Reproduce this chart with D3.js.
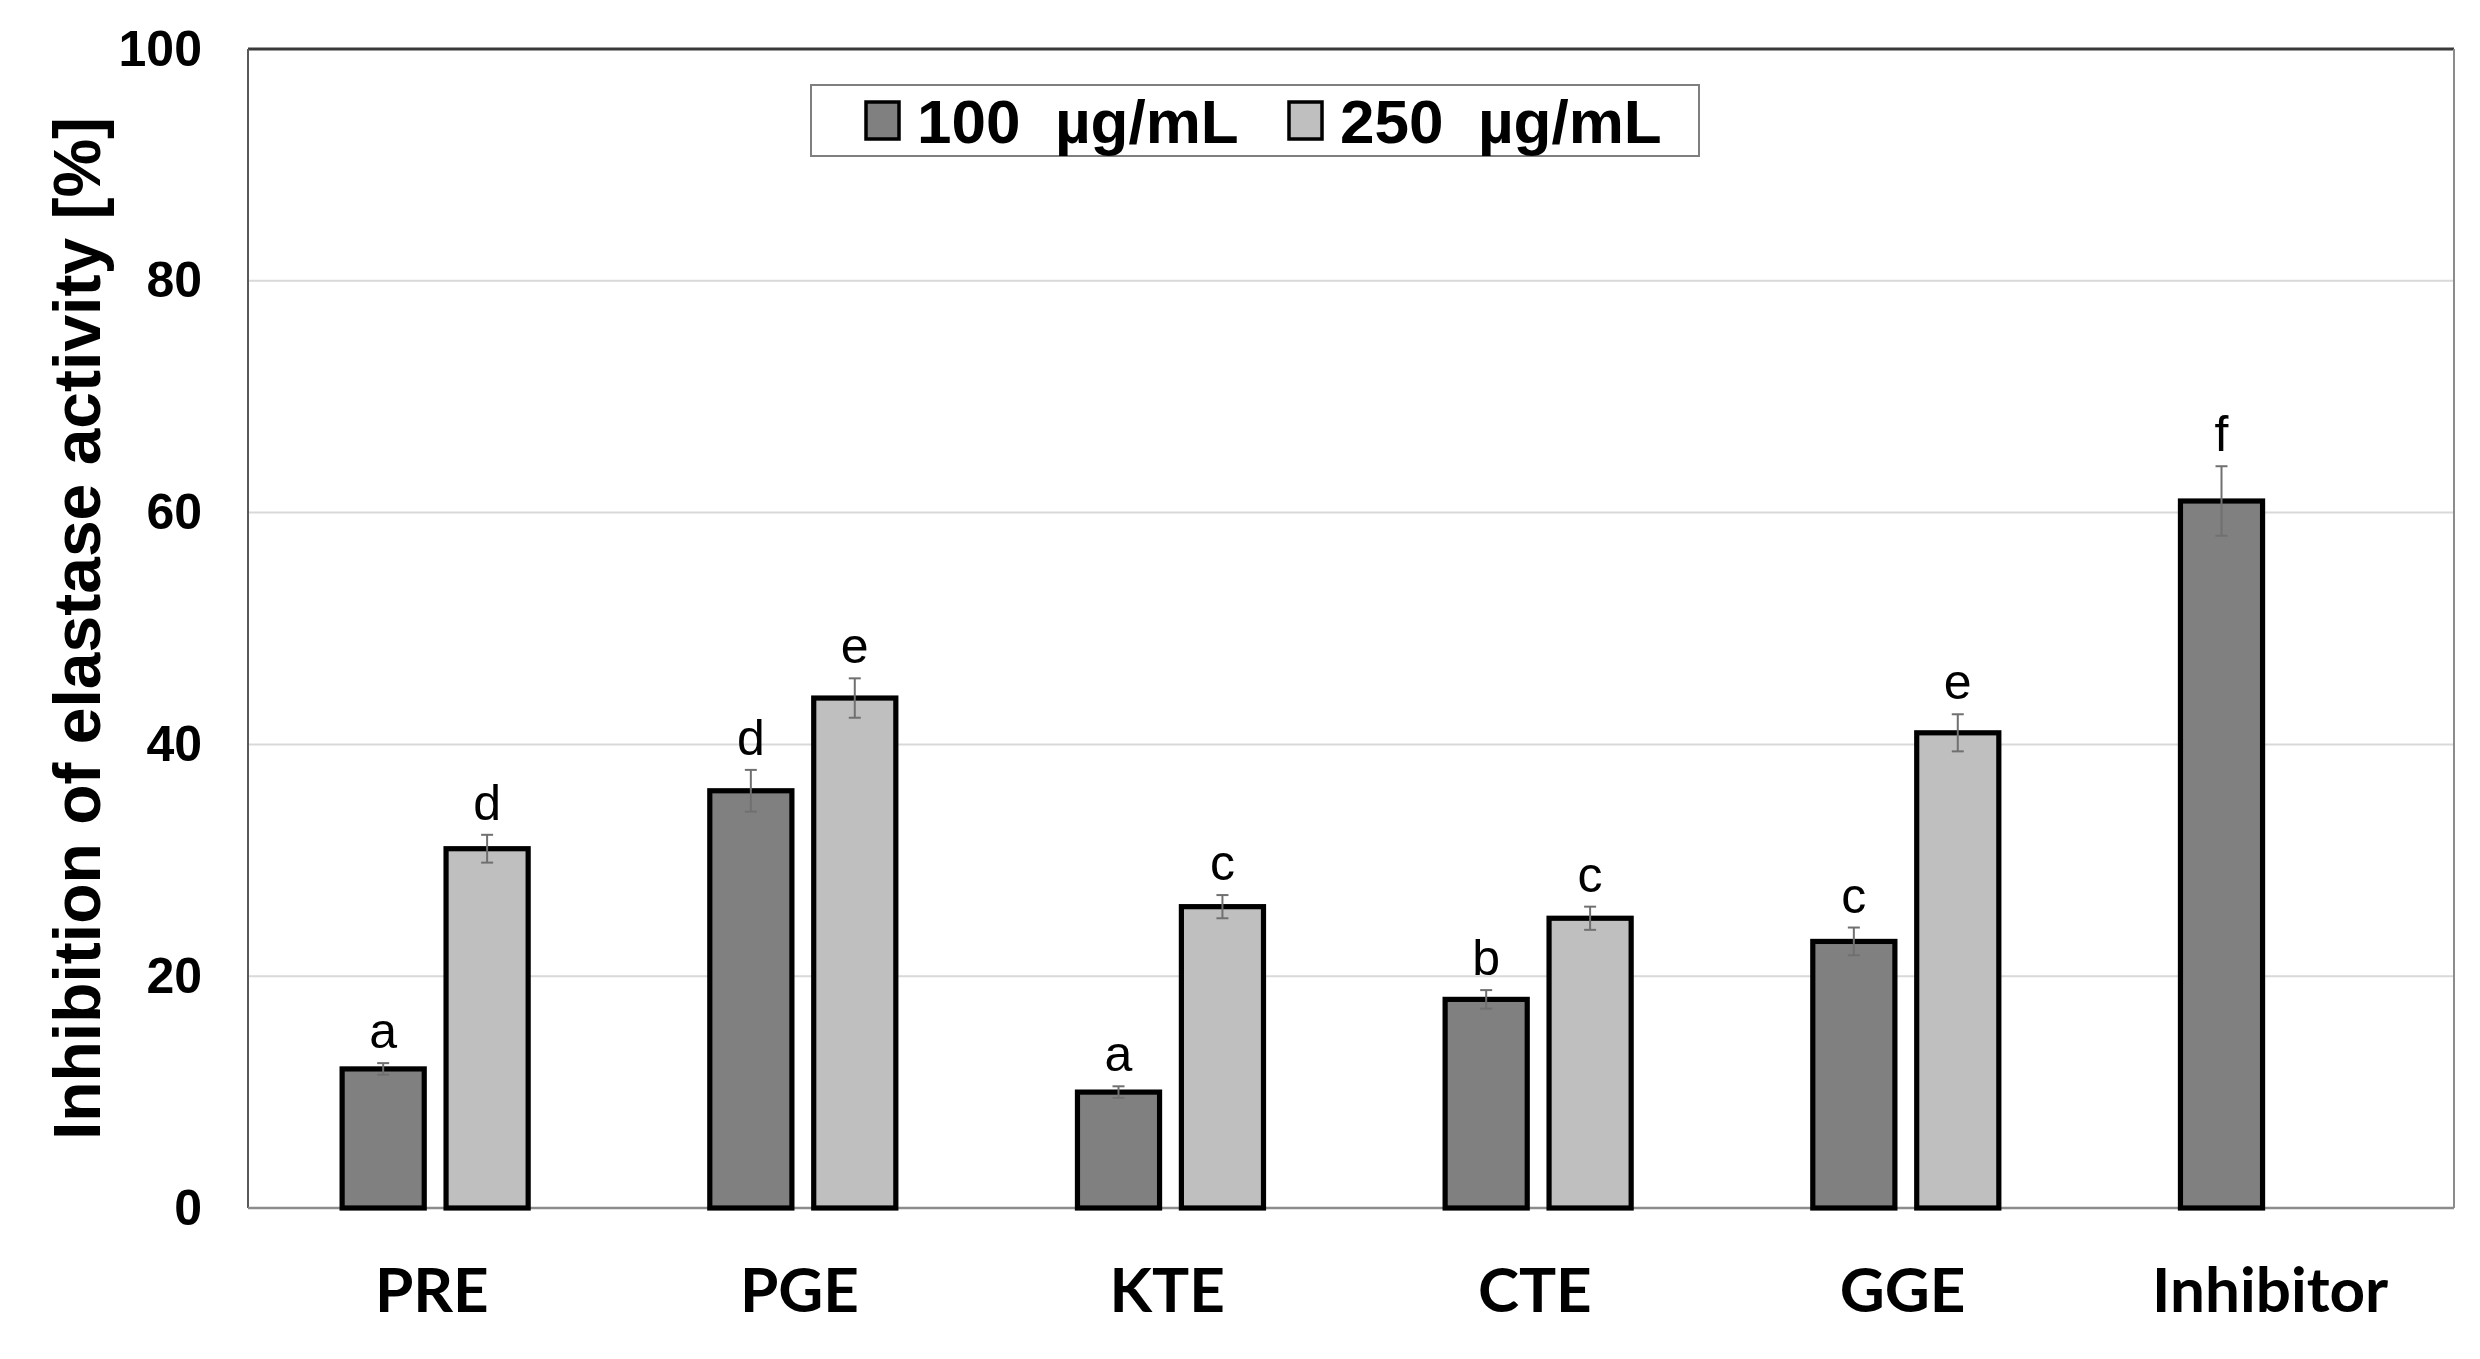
<!DOCTYPE html>
<html>
<head>
<meta charset="utf-8">
<script src="https://cdn.jsdelivr.net/npm/d3@7"></script>
<style>
  html, body { margin: 0; padding: 0; background: #ffffff; }
  svg { display: block; }
</style>
</head>
<body>
<script>
// ---- data ----
const categories = ["PRE", "PGE", "KTE", "CTE", "GGE", "Inhibitor"];
const seriesNames = ["100  µg/mL", "250  µg/mL"];
const values100 = [12, 36, 10, 18, 23, 61];
const values250 = [31, 44, 26, 25, 41, null];
const err100 = [0.5, 1.8, 0.5, 0.8, 1.2, 3.0];
const err250 = [1.2, 1.7, 1.0, 1.0, 1.6, null];
const letters100 = ["a", "d", "a", "b", "c", "f"];
const letters250 = ["d", "e", "c", "c", "e", null];
const yTicks = [0, 20, 40, 60, 80, 100];
const yTitle = "Inhibition of elastase activity [%]";

// ---- layout ----
const W = 2480, H = 1359;
const m = { left: 248, right: 2454, top: 49, bottom: 1208 };
const colors = ["#808080", "#bfbfbf"];
const FONT = "'Liberation Sans', Arial, sans-serif";

const svg = d3.select("body").append("svg").attr("width", W).attr("height", H);
svg.append("rect").attr("width", W).attr("height", H).attr("fill", "#fff");

const x0 = d3.scaleBand().domain(categories).range([m.left, m.right]).padding(0);
const bw = x0.bandwidth();
const x1 = d3.scaleBand().domain(seriesNames).range([bw * 0.256, bw * 0.762]).paddingInner(0.21).paddingOuter(0);
const y = d3.scaleLinear().domain([0, 100]).range([m.bottom, m.top]);

// gridlines
svg.append("g").selectAll("line").data(yTicks.filter(t => t > 0 && t < 100)).join("line")
  .attr("x1", m.left).attr("x2", m.right)
  .attr("y1", d => y(d)).attr("y2", d => y(d))
  .attr("stroke", "#d9d9d9").attr("stroke-width", 2);

// plot frame
svg.append("line").attr("x1", m.left).attr("x2", m.right).attr("y1", m.top).attr("y2", m.top)
  .attr("stroke", "#3a3a3a").attr("stroke-width", 3);
svg.append("line").attr("x1", m.left).attr("x2", m.left).attr("y1", m.top).attr("y2", m.bottom)
  .attr("stroke", "#595959").attr("stroke-width", 2);
svg.append("line").attr("x1", m.right).attr("x2", m.right).attr("y1", m.top).attr("y2", m.bottom)
  .attr("stroke", "#8c8c8c").attr("stroke-width", 2);
svg.append("line").attr("x1", m.left).attr("x2", m.right).attr("y1", m.bottom).attr("y2", m.bottom)
  .attr("stroke", "#8c8c8c").attr("stroke-width", 2.5);

// y axis tick labels via d3 axis
const yAxis = d3.axisLeft(y).tickValues(yTicks).tickSize(0).tickPadding(46);
const gy = svg.append("g").attr("transform", `translate(${m.left},0)`).call(yAxis);
gy.select(".domain").remove();
gy.selectAll("text").attr("font-family", FONT).attr("font-size", 50).attr("font-weight", "bold").attr("fill", "#000");

// x axis labels via d3 axis
const xAxis = d3.axisBottom(x0).tickSize(0).tickPadding(0);
const gx = svg.append("g").attr("transform", `translate(0,${m.bottom})`).call(xAxis);
gx.select(".domain").remove();
gx.selectAll("text").attr("font-family", "Lato, 'Liberation Sans', sans-serif").attr("font-size", 62)
  .attr("font-weight", "bold").attr("fill", "#000").attr("dy", null).attr("y", 104);

// bars
const rows = [];
categories.forEach((c, i) => {
  [values100, values250].forEach((vals, s) => {
    const v = vals[i];
    if (v === null || v === undefined) return;
    rows.push({
      cat: c, s: s, v: v,
      e: (s === 0 ? err100 : err250)[i],
      L: (s === 0 ? letters100 : letters250)[i]
    });
  });
});

const g = svg.append("g");
g.selectAll("rect.bar").data(rows).join("rect").attr("class", "bar")
  .attr("x", d => x0(d.cat) + x1(seriesNames[d.s]))
  .attr("y", d => y(d.v))
  .attr("width", x1.bandwidth())
  .attr("height", d => y(0) - y(d.v))
  .attr("fill", d => colors[d.s])
  .attr("stroke", "#000").attr("stroke-width", 5.2);

// error bars
const cx = d => x0(d.cat) + x1(seriesNames[d.s]) + x1.bandwidth() / 2;
const eg = g.selectAll("g.err").data(rows).join("g").attr("class", "err")
  .attr("stroke", "#707070").attr("stroke-width", 2);
eg.append("line").attr("x1", cx).attr("x2", cx).attr("y1", d => y(d.v + d.e)).attr("y2", d => y(d.v - d.e));
eg.append("line").attr("x1", d => cx(d) - 6).attr("x2", d => cx(d) + 6).attr("y1", d => y(d.v + d.e)).attr("y2", d => y(d.v + d.e));
eg.append("line").attr("x1", d => cx(d) - 6).attr("x2", d => cx(d) + 6).attr("y1", d => y(d.v - d.e)).attr("y2", d => y(d.v - d.e));

// significance letters
g.selectAll("text.sig").data(rows).join("text").attr("class", "sig")
  .attr("x", cx).attr("y", d => y(d.v + d.e) - 15)
  .attr("text-anchor", "middle").attr("font-family", FONT).attr("font-size", 50)
  .attr("fill", "#000").text(d => d.L);

// y title
svg.append("text")
  .attr("transform", `translate(100,${(m.top + m.bottom) / 2}) rotate(-90)`)
  .attr("text-anchor", "middle").attr("font-family", FONT).attr("font-size", 66)
  .attr("font-weight", "bold").attr("fill", "#000").text(yTitle);

// legend
const lg = svg.append("g");
lg.append("rect").attr("x", 811).attr("y", 85).attr("width", 888).attr("height", 71)
  .attr("fill", "#fff").attr("stroke", "#7f7f7f").attr("stroke-width", 2);
const legendX = [866, 1289];
seriesNames.forEach((s, i) => {
  lg.append("rect").attr("x", legendX[i]).attr("y", 102).attr("width", 33).attr("height", 37)
    .attr("fill", colors[i]).attr("stroke", "#000").attr("stroke-width", 3.5);
  lg.append("text").attr("x", legendX[i] + 51).attr("y", 143)
    .attr("font-family", FONT).attr("font-size", 62).attr("font-weight", "bold")
    .attr("fill", "#000").style("white-space", "pre").attr("xml:space", "preserve").text(s);
});
</script>
</body>
</html>
